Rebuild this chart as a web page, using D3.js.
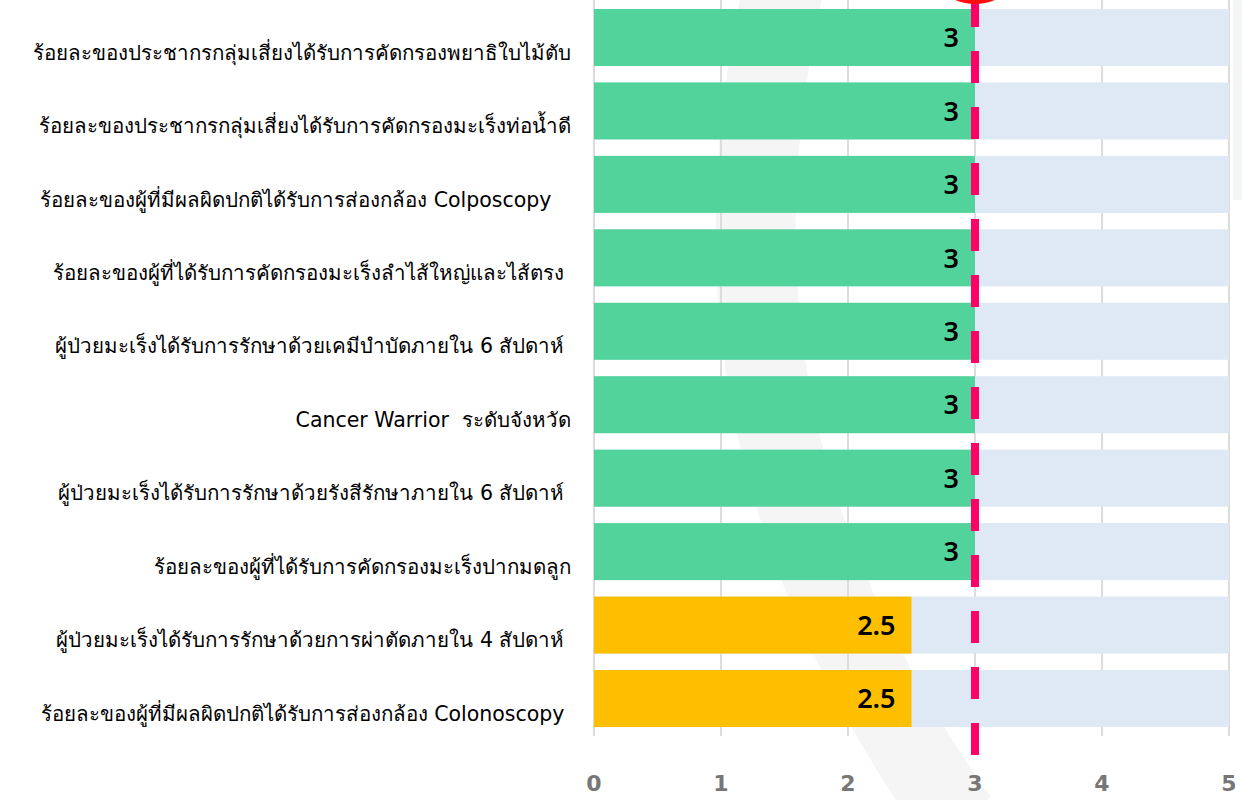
<!DOCTYPE html>
<html><head><meta charset="utf-8">
<script src="https://cdn.jsdelivr.net/npm/d3@7"></script>
<style>
html,body{margin:0;padding:0;background:#fff;}
svg{display:block;}
text{white-space:pre;}
</style></head>
<body><svg id="c" width="1242" height="800"></svg>
<script>
const categories = [
  "ร้อยละของประชากรกลุ่มเสี่ยงได้รับการคัดกรองพยาธิใบไม้ตับ",
  "ร้อยละของประชากรกลุ่มเสี่ยงได้รับการคัดกรองมะเร็งท่อน้ำดี",
  "ร้อยละของผู้ที่มีผลผิดปกติได้รับการส่องกล้อง Colposcopy   ",
  "ร้อยละของผู้ที่ได้รับการคัดกรองมะเร็งลำไส้ใหญ่และไส้ตรง ",
  "ผู้ป่วยมะเร็งได้รับการรักษาด้วยเคมีบำบัดภายใน 6 สัปดาห์ ",
  "Cancer Warrior  ระดับจังหวัด",
  "ผู้ป่วยมะเร็งได้รับการรักษาด้วยรังสีรักษาภายใน 6 สัปดาห์ ",
  "ร้อยละของผู้ที่ได้รับการคัดกรองมะเร็งปากมดลูก",
  "ผู้ป่วยมะเร็งได้รับการรักษาด้วยการผ่าตัดภายใน 4 สัปดาห์ ",
  "ร้อยละของผู้ที่มีผลผิดปกติได้รับการส่องกล้อง Colonoscopy "
];
const values = [3, 3, 3, 3, 3, 3, 3, 3, 2.5, 2.5];
const targetValue = 3;
const maxValue = 5;
const tickValues = [0, 1, 2, 3, 4, 5];
const colorAbove = "#53d39c";
const colorBelow = "#fdbf00";

const svg = d3.select("#c");
const x = d3.scaleLinear().domain([0, maxValue]).range([594, 1229]);
const y = d3.scaleBand().domain(categories).range([9, 727]).paddingInner(0.224).paddingOuter(0);

// background watermark
svg.append("path")
  .attr("d", "M785,-20 C725,250 745,520 958,820")
  .attr("fill", "none").attr("stroke", "#f4f5f4").attr("stroke-width", 80);
svg.append("rect").attr("x", 1233).attr("y", 0).attr("width", 9).attr("height", 200).attr("fill", "#f4f5f5");

// grid
svg.append("g").selectAll("line").data(tickValues).join("line")
  .attr("x1", d => x(d)).attr("x2", d => x(d))
  .attr("y1", 0).attr("y2", 736)
  .attr("stroke", "#dcdcdc").attr("stroke-width", 2);

// background bars
svg.append("g").selectAll("rect").data(categories).join("rect")
  .attr("x", x(0)).attr("y", d => y(d))
  .attr("width", x(maxValue) - x(0)).attr("height", y.bandwidth())
  .attr("fill", "#dee9f5");

// value bars
svg.append("g").selectAll("rect").data(values).join("rect")
  .attr("x", x(0)).attr("y", (d, i) => y(categories[i]))
  .attr("width", d => x(d) - x(0)).attr("height", y.bandwidth())
  .attr("fill", d => d >= targetValue ? colorAbove : colorBelow);

// value labels
svg.append("g").selectAll("text").data(values).join("text")
  .attr("x", d => x(d) - 16).attr("y", (d, i) => y(categories[i]) + y.bandwidth() / 2)
  .attr("dy", "0.36em").attr("text-anchor", "end")
  .attr("font-family", "'Noto Sans', sans-serif").attr("font-size", 27).attr("font-weight", 600)
  .attr("fill", "#000").text(d => d);

// category labels
svg.append("g").selectAll("text").data(categories).join("text")
  .attr("x", 571).attr("y", d => y(d) + y.bandwidth() / 2 + 15)
  .attr("dy", "0.35em").attr("text-anchor", "end")
  .attr("font-family", "'DejaVu Sans', 'Noto Sans', sans-serif").attr("font-size", 20.5)
  .attr("fill", "#000").text(d => d);

// target line
svg.append("line")
  .attr("x1", x(targetValue)).attr("x2", x(targetValue))
  .attr("y1", -5).attr("y2", 755)
  .attr("stroke", "#ff0066").attr("stroke-width", 8)
  .attr("stroke-dasharray", "32,24");
svg.append("circle").attr("cx", x(targetValue)).attr("cy", -48).attr("r", 52).attr("fill", "#ff1010");

// x axis labels
svg.append("g").selectAll("text").data(tickValues).join("text")
  .attr("x", d => x(d)).attr("y", 783).attr("dy", "0.35em").attr("text-anchor", "middle")
  .attr("font-family", "'DejaVu Sans', sans-serif").attr("font-size", 22).attr("font-weight", "bold")
  .attr("fill", "#777").text(d => d);
</script></body></html>
